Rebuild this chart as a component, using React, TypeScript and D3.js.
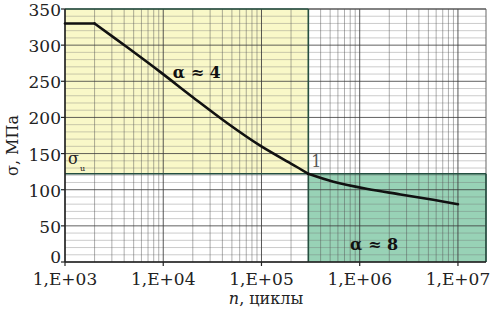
import React from 'react';
import * as d3 from 'd3';

const cycles = [1e3, 2e3, 4.3e3, 9.3e3, 2e4, 4.5e4, 9.7e4, 2.1e5, 3e5, 5.4e5, 1.2e6, 2.6e6, 5.6e6, 1e7];
const stress = [330, 330, 297, 263, 228, 192, 161, 134.5, 122, 111, 101, 93.5, 86, 80];
const yTicks = [0, 50, 100, 150, 200, 250, 300, 350];
const xTicks = [1e3, 1e4, 1e5, 1e6, 1e7];
const xTickLabels = ['1,E+03', '1,E+04', '1,E+05', '1,E+06', '1,E+07'];
const kneeN = 3e5;
const sigmaU = 122;
const nMax = 1.93e7;

const W = 493;
const H = 309;
const serif = "'DejaVu Serif', serif";

export default function App() {
  const x = d3.scaleLog().domain([1e3, nMax]).range([65, 486]);
  const y = d3.scaleLinear().domain([0, 350]).range([262, 9]);

  const minorX: number[] = [];
  for (let d = 3; d <= 7; d++) {
    for (let m = 2; m <= 9; m++) {
      const v = m * Math.pow(10, d);
      if (v < nMax) minorX.push(v);
    }
  }
  const minorY = d3.range(0, 351, 10).filter(v => v % 50 !== 0);

  const pts = cycles.map((c, i) => [c, stress[i]] as [number, number]);
  const smooth = d3.line<[number, number]>()
    .x(d => x(d[0]))
    .y(d => y(d[1]))
    .curve(d3.curveCatmullRom.alpha(0.5));
  // flat part, then the two sloped branches meeting at the knee
  const iFlat = cycles.indexOf(2e3);
  const iKnee = cycles.indexOf(kneeN);
  const parts = [pts.slice(0, iFlat + 1), pts.slice(iFlat, iKnee + 1), pts.slice(iKnee)];

  const [x0, x1] = x.range();
  const [yb, yt] = y.range();
  const txt = { fontFamily: serif };

  return (
    <svg width={W} height={H} style={{ position: 'absolute', left: 0, top: 0, background: '#fff' }}>
      {/* zones */}
      <rect x={x0} y={yt} width={x(kneeN) - x0} height={y(sigmaU) - yt} fill="#f9f8c8" />
      <rect x={x(kneeN)} y={y(sigmaU)} width={x1 - x(kneeN)} height={yb - y(sigmaU)} fill="#98d2b6" />

      {/* grid */}
      {minorY.map(v => (
        <line key={'hy' + v} x1={x0} x2={x1} y1={y(v)} y2={y(v)} stroke="#6f6f6f" strokeOpacity={0.45} strokeWidth={0.8} />
      ))}
      {minorX.map(v => (
        <line key={'vx' + v} x1={x(v)} x2={x(v)} y1={yt} y2={yb} stroke="#555" strokeOpacity={0.6} strokeWidth={0.8} />
      ))}
      {yTicks.map(v => (
        <line key={'my' + v} x1={x0} x2={x1} y1={y(v)} y2={y(v)} stroke="#3a3a3a" strokeOpacity={0.8} strokeWidth={1} />
      ))}
      {xTicks.map(v => (
        <line key={'mx' + v} x1={x(v)} x2={x(v)} y1={yt} y2={yb} stroke="#3a3a3a" strokeOpacity={0.85} strokeWidth={1} />
      ))}
      <line x1={x1} x2={x1} y1={yt} y2={yb} stroke="#666" strokeWidth={1} />
      <line x1={x(kneeN)} x2={x1} y1={yt} y2={yt} stroke="#555" strokeWidth={1} />

      {/* zone borders */}
      <line x1={x0} x2={x(kneeN)} y1={yt} y2={yt} stroke="#244f40" strokeWidth={1.6} />
      <line x1={x0} x2={x1} y1={y(sigmaU)} y2={y(sigmaU)} stroke="#244f40" strokeWidth={1.6} />
      <line x1={x(kneeN)} x2={x(kneeN)} y1={yt} y2={yb} stroke="#244f40" strokeWidth={1.6} />
      <line x1={x1} x2={x1} y1={y(sigmaU)} y2={yb} stroke="#244f40" strokeWidth={1.6} />

      {/* axes */}
      <line x1={x0} x2={x0} y1={yt} y2={yb} stroke="#222" strokeWidth={1.5} />
      <line x1={x0} x2={x1} y1={yb} y2={yb} stroke="#222" strokeWidth={1.5} />
      {yTicks.map(v => (
        <g key={'yt' + v}>
          <line x1={x0 - 4} x2={x0} y1={y(v)} y2={y(v)} stroke="#222" strokeWidth={1.2} />
          <text x={x0 - 4} y={y(v) + (v === 0 ? 1 : 7)} textAnchor="end" fontSize={17} fill="#222" style={txt}>{v}</text>
        </g>
      ))}
      {xTicks.map((v, i) => (
        <g key={'xt' + v}>
          <line x1={x(v)} x2={x(v)} y1={yb} y2={yb + 4} stroke="#222" strokeWidth={1.2} />
          <text x={x(v)} y={yb + 23} textAnchor="middle" fontSize={17} fill="#222" style={txt}>{xTickLabels[i]}</text>
        </g>
      ))}

      {/* curve */}
      {parts.map((p, i) => (
        <path key={'c' + i} d={smooth(p) || ''} fill="none" stroke="#111" strokeWidth={2.6} strokeLinejoin="round" strokeLinecap="round" />
      ))}

      {/* labels */}
      <text x={x(1.25e4)} y={y(255)} fontSize={16} fontWeight="bold" fill="#111" style={txt}>α ≈ 4</text>
      <text x={x(1.4e6)} y={y(17)} fontSize={16} fontWeight="bold" fill="#111" textAnchor="middle" style={txt}>α ≈ 8</text>
      <text x={x(kneeN) + 3} y={y(sigmaU) - 7} fontSize={16} fill="#555" style={txt}>1</text>
      <text x={x0 + 3} y={y(sigmaU) - 10} fontSize={16} fill="#222" style={txt}>σ
        <tspan fontSize={8} dx={1} dy={7}>u</tspan>
      </text>
      <text transform={`translate(18,${(yt + yb) / 2 + 10}) rotate(-90)`} textAnchor="middle" fontSize={16} fill="#222" style={txt}>σ, МПа</text>
      <text x={266} y={304} textAnchor="middle" fontSize={16} fill="#222" style={txt}>
        <tspan fontStyle="italic">n</tspan>, циклы
      </text>
    </svg>
  );
}
